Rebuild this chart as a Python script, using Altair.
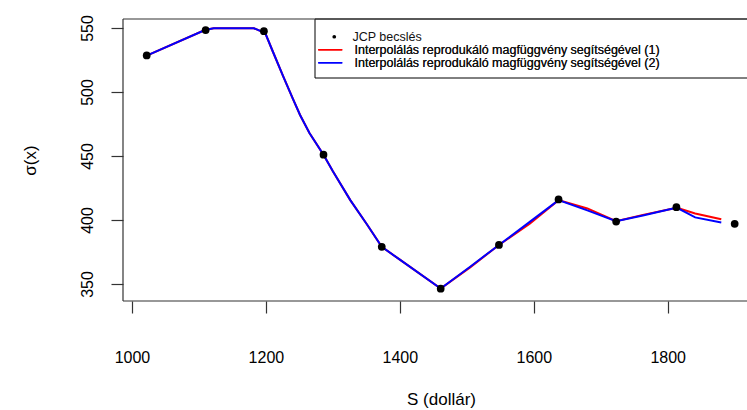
import altair as alt
import pandas as pd

# --- data ---
S_pts = [1022, 1110, 1197, 1286, 1373, 1461, 1548, 1637, 1723, 1813, 1900]
sigma_pts = [528.5, 548.4, 547.5, 451.0, 379.0, 346.3, 380.5, 416.0, 398.8, 410.0, 397.0]

S_curve = [1022, 1109, 1122, 1182, 1199, 1210, 1226, 1240, 1251, 1265, 1286, 1300, 1326, 1351,
           1373, 1400, 1461, 1505, 1548, 1594, 1637, 1680, 1723, 1763, 1803, 1814, 1841, 1880]
sigma_curve1 = [528.4, 548.4, 549.8, 549.8, 546.0, 532.0, 512.0, 495.0, 482.0, 468.0, 451.0, 438.0,
                415.5, 396.5, 379.0, 369.0, 346.5, 363.0, 380.5, 397.0, 415.5, 409.0, 399.0, 404.0,
                408.4, 409.5, 405.0, 400.5]
sigma_curve2 = [528.4, 548.4, 549.8, 549.8, 546.0, 532.0, 512.0, 495.0, 482.0, 468.0, 451.0, 438.0,
                415.5, 396.5, 379.0, 369.0, 346.5, 363.5, 380.5, 398.5, 415.5, 407.5, 399.0, 403.5,
                408.4, 409.5, 402.0, 398.0]

pt_label = "JCP becslés"
label1 = "Interpolálás reprodukáló magfüggvény segítségével (1)"
label2 = "Interpolálás reprodukáló magfüggvény segítségével (2)"

x_ticks = [1000, 1200, 1400, 1600, 1800]
y_ticks = [350, 400, 450, 500, 550]

pts = pd.DataFrame({"S": S_pts, "sigma": sigma_pts, "kind": [pt_label] * len(S_pts)})
n = len(S_curve)
curves = pd.DataFrame({
    "S": S_curve + S_curve,
    "sigma": sigma_curve1 + sigma_curve2,
    "series": [label1] * n + [label2] * n,
    "ord": list(range(n)) * 2,
})

FONT = "Liberation Sans"
FRAME = "#333333"
W, H = 624, 282
xscale = alt.Scale(domain=[986.6, 1918.4], nice=False, zero=False)
yscale = alt.Scale(domain=[336.7, 557.0], nice=False, zero=False)

color_scale = alt.Scale(domain=[label1, label2], range=["#ff0000", "#0000ff"])
line_legend = alt.Legend(
    orient="none", legendX=201, legendY=24.5, title=None, padding=0,
    symbolType="M-3,0H3", symbolSize=64, symbolStrokeWidth=1.5,
    labelFont=FONT, labelFontSize=12.5, labelColor="#111111", labelOffset=18,
    rowPadding=0, labelLimit=600,
)

dummy = pd.DataFrame({"a": [0]})
box = alt.Chart(dummy).mark_rect(
    fill="white", stroke="black", strokeWidth=1
).encode(x=alt.value(192), x2=alt.value(660), y=alt.value(0), y2=alt.value(59))

frame_left = alt.Chart(dummy).mark_rule(color=FRAME, strokeWidth=1.2).encode(
    x=alt.value(0), y=alt.value(0), y2=alt.value(H))
frame_top = alt.Chart(dummy).mark_rule(color=FRAME, strokeWidth=1.2).encode(
    x=alt.value(0), x2=alt.value(W + 10), y=alt.value(0))
frame_bottom = alt.Chart(dummy).mark_rule(color=FRAME, strokeWidth=1.2).encode(
    x=alt.value(0), x2=alt.value(W + 10), y=alt.value(H))

red = alt.Chart(curves).transform_filter(alt.datum.series == label1).mark_line(
    strokeWidth=2, clip=True
).encode(
    x=alt.X("S:Q", scale=xscale, axis=None),
    y=alt.Y("sigma:Q", scale=yscale, axis=None),
    color=alt.Color("series:N", scale=color_scale, legend=line_legend),
    order="ord:Q",
)

blue = alt.Chart(curves).transform_filter(alt.datum.series == label2).mark_line(
    strokeWidth=2, clip=True
).encode(
    x=alt.X("S:Q", scale=xscale, axis=None),
    y=alt.Y("sigma:Q", scale=yscale, axis=None),
    color=alt.Color("series:N", scale=color_scale, legend=line_legend),
    order="ord:Q",
)

points = alt.Chart(pts).mark_point(filled=True, size=60, color="black", opacity=1).encode(
    x=alt.X("S:Q", scale=xscale, axis=alt.Axis(
        orient="bottom", values=x_ticks, format="d", grid=False, title="S (dollár)",
        domain=False, tickSize=12, labelPadding=49, labelBaseline="alphabetic",
        labelFont=FONT, labelFontSize=16, labelColor="black",
        titleFont=FONT, titleFontSize=17, titleFontWeight="normal", titleColor="black",
        titleX=318, titleY=103, titleBaseline="alphabetic", titleAlign="center",
        tickColor=FRAME, tickWidth=1.2,
        labelFlush=False, labelOverlap=False)),
    y=alt.Y("sigma:Q", scale=yscale, axis=alt.Axis(
        orient="left", values=y_ticks, format="d", grid=False, title="σ(x)",
        domain=False, tickSize=12, labelPadding=19, labelAngle=270, labelAlign="center",
        labelBaseline="alphabetic",
        labelFont=FONT, labelFontSize=16, labelColor="black",
        titleFont=FONT, titleFontSize=17, titleFontWeight="normal", titleColor="black",
        titleAngle=270, titleX=-88, titleY=141, titleBaseline="alphabetic", titleAlign="center",
        tickColor=FRAME, tickWidth=1.2,
        labelFlush=False, labelOverlap=False)),
    shape=alt.Shape("kind:N", scale=alt.Scale(domain=[pt_label], range=["circle"]),
                    legend=alt.Legend(
                        orient="none", legendX=205, legendY=11.5, title=None, padding=0,
                        symbolSize=14, symbolFillColor="black", symbolStrokeWidth=0,
                        labelFont=FONT, labelFontSize=12.5, labelColor="#111111", labelOffset=12,
                        labelLimit=600)),
)

chart = alt.layer(
    box, frame_left, frame_top, frame_bottom, red, blue, points
).resolve_axis(x="independent", y="independent").resolve_legend(
    color="independent", shape="independent"
).properties(
    width=W, height=H,
    padding={"left": 123, "top": 19, "right": 0, "bottom": 109},
    autosize=alt.AutoSizeParams(type="none"),
    background="white",
).configure_view(stroke=None)

chart.save("out.html", embed_options={"renderer": "svg", "actions": False})
